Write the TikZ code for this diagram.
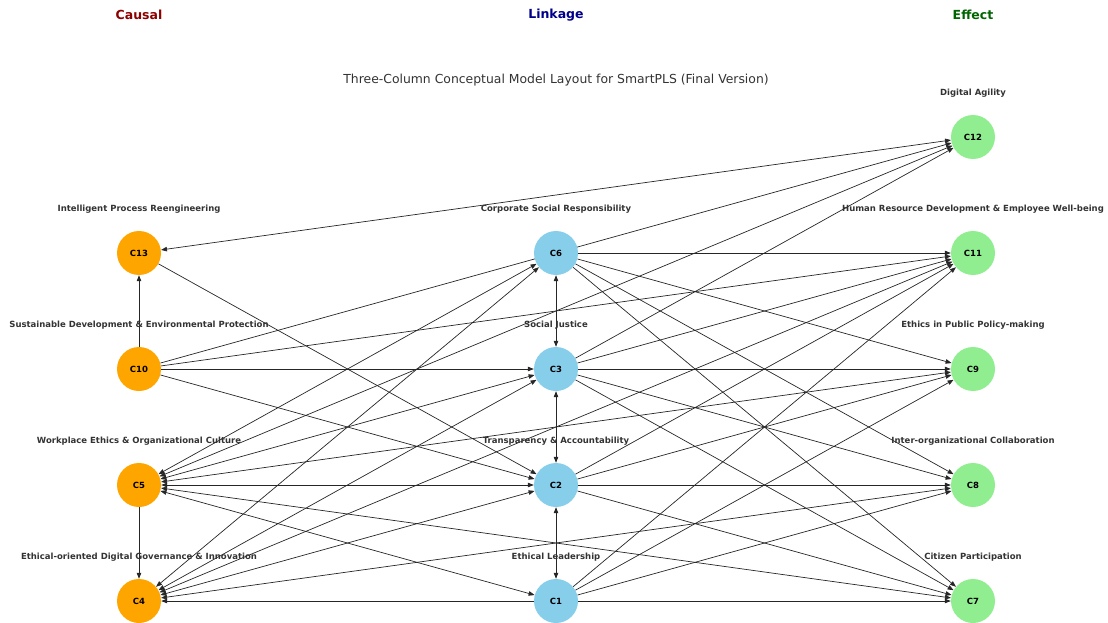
\documentclass[tikz,border=0pt]{standalone}
\usepackage{fontspec}
\setmainfont{DejaVu Sans}
\usetikzlibrary{arrows.meta}
\definecolor{causalfill}{HTML}{FFA500}
\definecolor{linkfill}{HTML}{87CEEB}
\definecolor{effectfill}{HTML}{90EE90}
\definecolor{lblgray}{HTML}{333333}
\definecolor{hcausal}{HTML}{8B0000}
\definecolor{hlink}{HTML}{00008B}
\definecolor{heffect}{HTML}{006400}
\pgfdeclarelayer{background}
\pgfsetlayers{background,main}
\tikzset{
  cnode/.style={circle, minimum size=44pt, inner sep=0pt, font=\bfseries\fontsize{8.5}{10}\selectfont},
  causal/.style={cnode, fill=causalfill},
  linkage/.style={cnode, fill=linkfill},
  effect/.style={cnode, fill=effectfill},
  lbl/.style={font=\bfseries\fontsize{8.5}{10}\selectfont, text=lblgray, inner sep=0pt},
  colhead/.style={font=\bfseries\fontsize{12.5}{14}\selectfont, inner sep=0pt},
  edge/.style={draw=black!85, line width=0.7pt, -{Triangle[length=6pt,width=4.5pt]}},
  bedge/.style={draw=black!85, line width=0.7pt, {Triangle[length=6pt,width=4.5pt]}-{Triangle[length=6pt,width=4.5pt]}},
}
\begin{document}
\begin{tikzpicture}[x=1pt,y=-1pt]
\useasboundingbox (0,0) rectangle (1108,623);
% column headers and title
\node[colhead, text=hcausal] (hC) at (139,15) {Causal};
\node[colhead, text=hlink] (hL) at (556,15) {Linkage};
\node[colhead, text=heffect] (hE) at (973,15) {Effect};
\node[font=\fontsize{12.4}{14}\selectfont, text=lblgray, inner sep=0pt] (title) at (556,80) {Three-Column Conceptual Model Layout for SmartPLS (Final Version)};
% causal column
\node[causal] (C13) at (139,253) {C13};
\node[causal] (C10) at (139,369) {C10};
\node[causal] (C5) at (139,485) {C5};
\node[causal] (C4) at (139,601) {C4};
% linkage column
\node[linkage] (C6) at (556,253) {C6};
\node[linkage] (C3) at (556,369) {C3};
\node[linkage] (C2) at (556,485) {C2};
\node[linkage] (C1) at (556,601) {C1};
% effect column
\node[effect] (C12) at (973,137) {C12};
\node[effect] (C11) at (973,253) {C11};
\node[effect] (C9) at (973,369) {C9};
\node[effect] (C8) at (973,485) {C8};
\node[effect] (C7) at (973,601) {C7};
% labels
\node[lbl] (L13) at (139,209) {Intelligent Process Reengineering};
\node[lbl] (L10) at (139,325) {Sustainable Development \& Environmental Protection};
\node[lbl] (L5) at (139,441) {Workplace Ethics \& Organizational Culture};
\node[lbl] (L4) at (139,557) {Ethical-oriented Digital Governance \& Innovation};
\node[lbl] (L6) at (556,209) {Corporate Social Responsibility};
\node[lbl] (L3) at (556,325) {Social Justice};
\node[lbl] (L2) at (556,441) {Transparency \& Accountability};
\node[lbl] (L1) at (556,557) {Ethical Leadership};
\node[lbl] (L12) at (973,93) {Digital Agility};
\node[lbl] (L11) at (973,209) {Human Resource Development \& Employee Well-being};
\node[lbl] (L9) at (973,325) {Ethics in Public Policy-making};
\node[lbl] (L8) at (973,441) {Inter-organizational Collaboration};
\node[lbl] (L7) at (973,557) {Citizen Participation};
\begin{pgfonlayer}{background}
% vertical links
\draw[edge] (C10) -- (C13);
\draw[edge] (C5) -- (C4);
\draw[bedge] (C6) -- (C3);
\draw[bedge] (C3) -- (C2);
\draw[bedge] (C2) -- (C1);
% from causal column
\draw[bedge] (C13) -- (C12);
\draw[edge] (C13) -- (C2);
\draw[edge] (C10) -- (C12);
\draw[edge] (C10) -- (C11);
\draw[edge] (C10) -- (C3);
\draw[edge] (C10) -- (C2);
\draw[bedge] (C5) -- (C6);
\draw[bedge] (C5) -- (C12);
\draw[bedge] (C5) -- (C3);
\draw[bedge] (C5) -- (C9);
\draw[bedge] (C5) -- (C2);
\draw[bedge] (C5) -- (C7);
\draw[bedge] (C5) -- (C1);
\draw[bedge] (C4) -- (C6);
\draw[bedge] (C4) -- (C3);
\draw[bedge] (C4) -- (C11);
\draw[bedge] (C4) -- (C2);
\draw[bedge] (C4) -- (C8);
\draw[edge] (C1) -- (C4);
% from linkage column
\draw[edge] (C6) -- (C11);
\draw[edge] (C6) -- (C9);
\draw[edge] (C6) -- (C8);
\draw[edge] (C6) -- (C7);
\draw[edge] (C3) -- (C12);
\draw[edge] (C3) -- (C11);
\draw[edge] (C3) -- (C9);
\draw[edge] (C3) -- (C8);
\draw[edge] (C3) -- (C7);
\draw[edge] (C2) -- (C11);
\draw[edge] (C2) -- (C9);
\draw[edge] (C2) -- (C8);
\draw[edge] (C2) -- (C7);
\draw[edge] (C1) -- (C11);
\draw[edge] (C1) -- (C9);
\draw[edge] (C1) -- (C8);
\draw[edge] (C1) -- (C7);
\end{pgfonlayer}
\end{tikzpicture}
\end{document}
